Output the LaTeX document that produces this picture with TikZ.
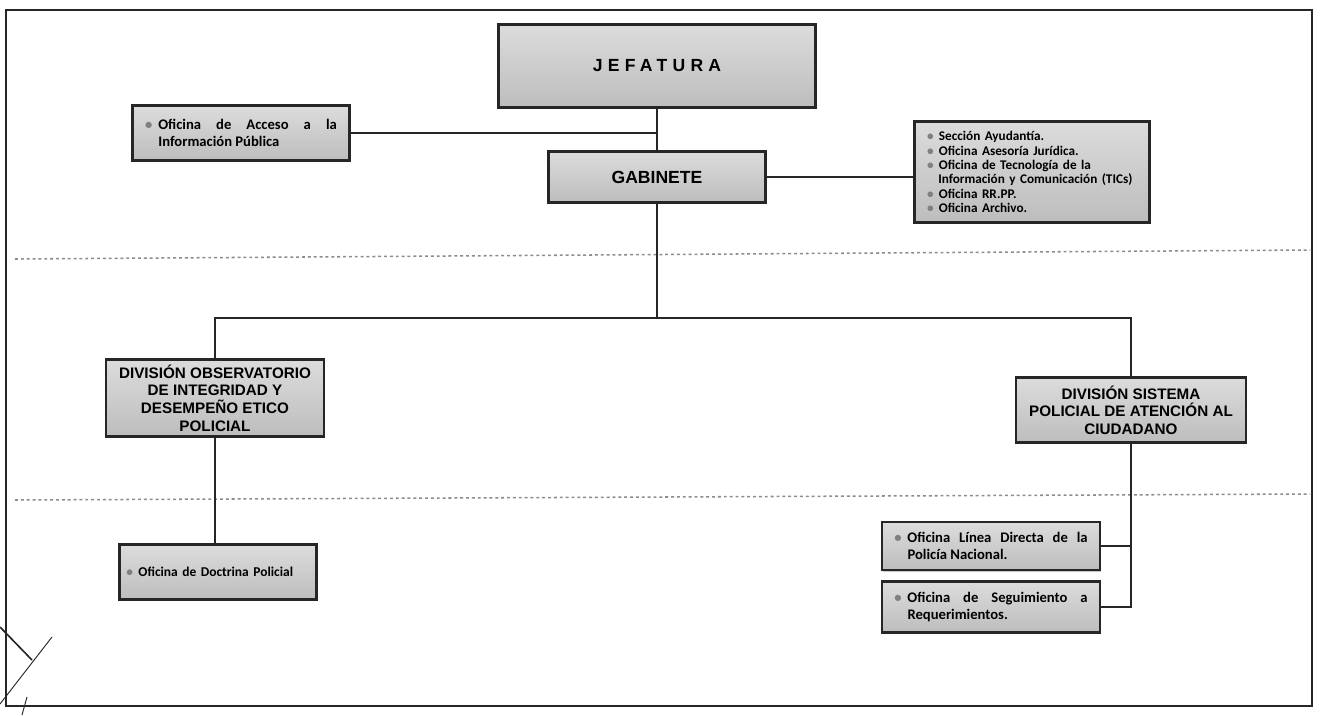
\documentclass[tikz,border=0pt]{standalone}
\usepackage{fontspec}
\setmainfont{Liberation Sans}
\newfontfamily\calfont{Carlito}
\newfontfamily\widefont[LetterSpace=30]{Liberation Sans}
\usetikzlibrary{positioning, calc, shadows}
\definecolor{ink}   {HTML}{262626}
\definecolor{boxtop}{HTML}{DCDCDC}
\definecolor{boxbot}{HTML}{BDBDBD}
\definecolor{sep}   {HTML}{8C8C8C}
\newcommand{\itm}{{\color{gray}\textbullet}\hspace{0.4em}}
\hyphenpenalty=10000
\tikzset{
  unit/.style = {draw=ink, line width=1.8pt, top color=boxtop, bottom color=boxbot,
                 align=center, inner sep=2pt,
                 drop shadow={opacity=0.45, shadow xshift=0.8pt, shadow yshift=-1.4pt}},
  head/.style = {unit, font=\widefont\bfseries\fontsize{15}{18}\selectfont},
  divi/.style = {unit, font=\bfseries\fontsize{13}{15}\selectfont},
  note/.style = {unit, font=\calfont\bfseries\fontsize{12.5}{15}\selectfont, align=justify},
  link/.style = {draw=ink, line width=1.3pt},
  cut/.style  = {draw=sep, line width=1.3pt, dash pattern=on 2.5pt off 2.5pt},
}

\begin{document}
\begin{tikzpicture}[x=0.03cm, y=-0.03cm]
  \useasboundingbox (0,0) rectangle (1321,715);
  \draw[ink, line width=2pt] (6,10) rectangle (1312,706);

  % separators
  \draw[cut] (15,259) -- (1310,250);
  \draw[cut] (15,500) -- (1310,494);

  % top level
  \node[head, minimum width=9.51cm, minimum height=2.49cm] (jefatura) at (657,66) {JEFATURA};
  \node[unit, font=\bfseries\fontsize{15}{18}\selectfont,
        minimum width=6.51cm, minimum height=1.53cm] (gabinete) at (657,177) {GABINETE};

  \node[note, text width=5.75cm, minimum width=6.51cm, minimum height=1.65cm] (acceso) at (241,133)
    {\hangindent=0.9em\hangafter=1 \itm Oficina de Acceso a la Información Pública\par};

  \node[note, align=left, font=\calfont\bfseries\fontsize{11.3}{12.2}\selectfont,
        text width=6.3cm, minimum width=7.05cm, minimum height=3.03cm] (apoyo) at (1032,172)
    {\itm Sección Ayudantía.\\
     \itm Oficina Asesoría Jurídica.\\
     \itm Oficina de Tecnología de la\\
     \hspace*{0.85em}Información y Comunicación (TICs)\\
     \itm Oficina RR.PP.\\
     \itm Oficina Archivo.};

  % divisions
  \node[divi, minimum width=6.54cm, minimum height=2.31cm] (obs) at (215,398)
    {DIVISIÓN OBSERVATORIO\\DE INTEGRIDAD Y\\DESEMPEÑO ETICO\\POLICIAL};
  \node[divi, minimum width=6.9cm, minimum height=1.95cm] (sis) at (1131,410)
    {DIVISIÓN SISTEMA\\POLICIAL DE ATENCIÓN AL\\CIUDADANO};

  % offices
  \node[note, align=left, font=\calfont\bfseries\fontsize{11.5}{14}\selectfont,
        text width=5.5cm, minimum width=5.91cm, minimum height=1.65cm] (doctrina) at (218,572)
    {\itm Oficina de Doctrina Policial};
  \node[note, text width=5.8cm, minimum width=6.54cm, minimum height=1.44cm] (linea) at (991,546)
    {\hangindent=0.9em\hangafter=1 \itm Oficina Línea Directa de la Policía Nacional.\par};
  \node[note, text width=5.8cm, minimum width=6.54cm, minimum height=1.53cm] (seguimiento) at (991,607)
    {\hangindent=0.9em\hangafter=1 \itm Oficina de Seguimiento a Requerimientos.\par};

  % connectors
  \coordinate (bus) at (657,318);
  \draw[link] (jefatura.south) -- (gabinete.north);
  \draw[link] (acceso.east) -- (acceso.east -| jefatura.south);
  \draw[link] (gabinete.east) -- (gabinete.east -| apoyo.west);
  \draw[link] (gabinete.south) -- (bus);
  \draw[link] (obs.north) |- (bus) -| (sis.north);
  \draw[link] (obs.south) -- (obs.south |- doctrina.north);
  \draw[link] (sis.south) |- (seguimiento.east);
  \draw[link] (linea.east) -- (linea.east -| sis.south);

  % pen marks
  \draw[ink, line width=1.4pt] (0,627) -- (32,660);
  \draw[ink, line width=0.8pt] (52,637) -- (0,704);
  \draw[ink, line width=0.8pt] (27,697) -- (22,715);
\end{tikzpicture}
\end{document}
